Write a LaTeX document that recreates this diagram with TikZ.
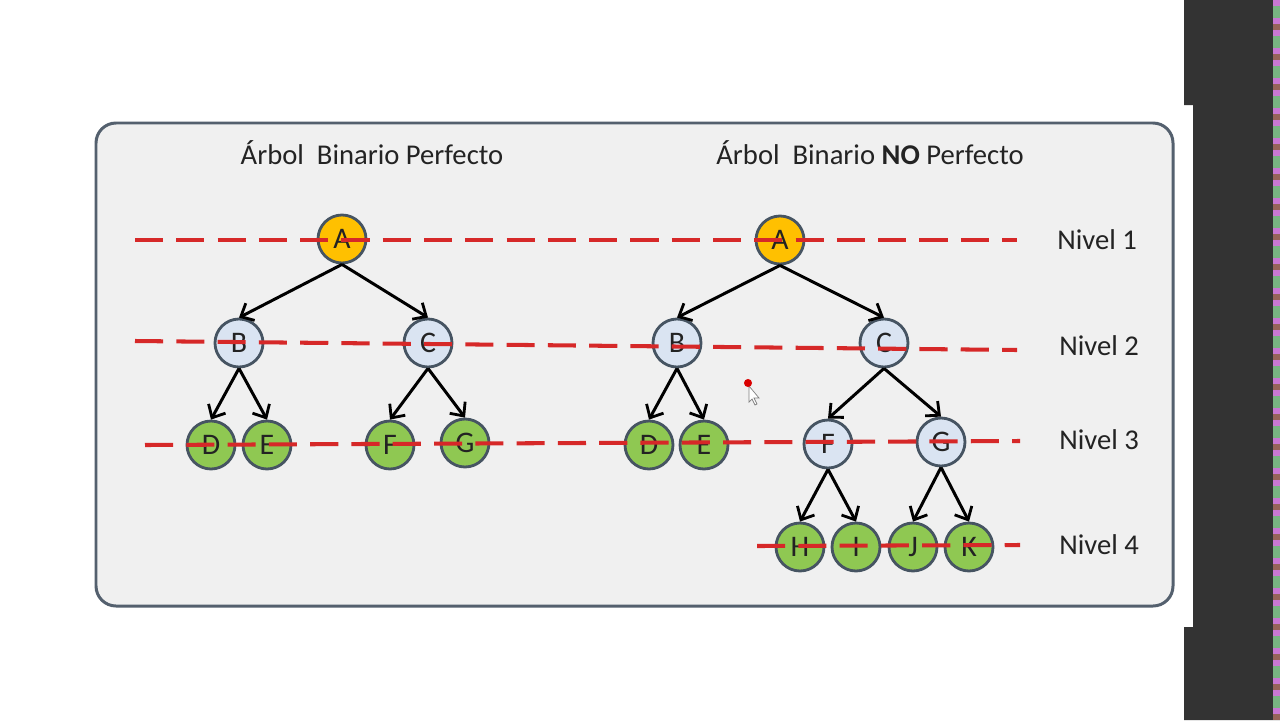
\documentclass[tikz,border=0pt]{standalone}
\usepackage{fontspec}
\setmainfont{Carlito}
\usetikzlibrary{arrows.meta}

\definecolor{boxfill}{RGB}{240,240,240}
\definecolor{boxline}{RGB}{84,96,110}
\definecolor{nodeline}{RGB}{70,84,98}
\definecolor{rootfill}{RGB}{255,192,0}
\definecolor{midfill}{RGB}{218,228,242}
\definecolor{leaffill}{RGB}{143,200,82}
\definecolor{levelred}{RGB}{214,40,40}
\definecolor{darkbar}{RGB}{51,51,51}
\definecolor{textgray}{RGB}{35,35,35}
\definecolor{noise0}{RGB}{200,120,210}
\definecolor{noise1}{RGB}{110,150,190}
\definecolor{noise2}{RGB}{230,230,120}
\definecolor{noise3}{RGB}{120,180,130}
\definecolor{noise4}{RGB}{150,100,90}

\begin{document}
\begin{tikzpicture}[
x=0.02cm, y=-0.02cm,
vertex/.style={circle, draw=nodeline, line width=1.6pt, minimum size=0.96cm, inner sep=0pt, text=textgray, font=\fontsize{17}{17}\selectfont},
rootnode/.style={vertex, fill=rootfill},
midnode/.style={vertex, fill=midfill},
leafnode/.style={vertex, fill=leaffill},
branch/.style={line width=1.7pt, -{Straight Barb[length=6pt,width=11pt,line width=1.6pt]}},
levelline/.style={draw=levelred, line width=2.3pt, dash pattern=on 16pt off 7.5pt},
heading/.style={text=textgray, font=\fontsize{16.3}{16.3}\selectfont},
levellabel/.style={text=textgray, font=\fontsize{16.3}{16.3}\selectfont}
]

% page and frame
\fill[white] (0,0) rectangle (1280,720);
\fill[darkbar] (1184,0) -- (1280,0) -- (1280,720) -- (1184,720) -- (1184,627)
  -- (1193,627) -- (1193,105) -- (1184,105) -- cycle;
\foreach \i in {0,...,119} {
  \pgfmathtruncatemacro\k{mod(\i*7+\i*\i,5)}
  \fill[noise\k] (1273,6*\i) rectangle (1280,6*\i+6);
}
\draw[boxline, line width=1.7pt, fill=boxfill, rounded corners=0.4cm] (96,123) rectangle (1173,606);

% headings
\node[heading] (hleft) at (372,153) {Árbol\ \ Binario Perfecto};
\node[heading] (hright) at (870,153) {Árbol\ \ Binario \textbf{NO} Perfecto};

% left tree
\node[rootnode] (lA) at (342,239) {A};
\node[midnode] (lB) at (239,343) {B};
\node[midnode] (lC) at (428,343) {C};
\node[leafnode] (lD) at (211,445) {D};
\node[leafnode] (lE) at (267,445) {E};
\node[leafnode] (lF) at (390,445) {F};
\node[leafnode] (lG) at (465,443) {G};

% right tree
\node[rootnode] (rA) at (780,240) {A};
\node[midnode] (rB) at (677,343) {B};
\node[midnode] (rC) at (884,343) {C};
\node[leafnode] (rD) at (649,445) {D};
\node[leafnode] (rE) at (704,445) {E};
\node[midnode] (rF) at (828,444) {F};
\node[midnode] (rG) at (941,442) {G};
\node[leafnode] (rH) at (800,547) {H};
\node[leafnode] (rI) at (856,547) {I};
\node[leafnode] (rJ) at (913,547) {J};
\node[leafnode] (rK) at (969,547) {K};

% edges
\draw[branch] (lA.south) -- (lB.north);
\draw[branch] (lA.south) -- (lC.north);
\draw[branch] (lB.south) -- (lD.north);
\draw[branch] (lB.south) -- (lE.north);
\draw[branch] (lC.south) -- (lF.north);
\draw[branch] (lC.south) -- (lG.north);
\draw[branch] (rA.south) -- (rB.north);
\draw[branch] (rA.south) -- (rC.north);
\draw[branch] (rB.south) -- (rD.north);
\draw[branch] (rB.south) -- (rE.north);
\draw[branch] (rC.south) -- (rF.north);
\draw[branch] (rC.south) -- (rG.north);
\draw[branch] (rF.south) -- (rH.north);
\draw[branch] (rF.south) -- (rI.north);
\draw[branch] (rG.south) -- (rJ.north);
\draw[branch] (rG.south) -- (rK.north);

% levels
\coordinate (n1a) at (135,240);  \coordinate (n1b) at (1017,240);
\coordinate (n2a) at (135,341);  \coordinate (n2b) at (1017,350);
\coordinate (n3a) at (145,445);  \coordinate (n3b) at (1020,441);
\coordinate (n4a) at (757,546);  \coordinate (n4b) at (1020,545);
\draw[levelline] (n1a) -- (n1b);
\draw[levelline] (n2a) -- (n2b);
\draw[levelline] (n3a) -- (n3b);
\draw[levelline] (n4a) -- (n4b);

\node[levellabel] (niv1) at (1097,240) {Nivel 1};
\node[levellabel] (niv2) at (1099,346) {Nivel 2};
\node[levellabel] (niv3) at (1099,440) {Nivel 3};
\node[levellabel] (niv4) at (1099,545) {Nivel 4};

% pointer
\draw[gray, fill=white, line width=0.4pt] (749,386) -- (749,402) -- (752,399) -- (755,405)
  -- (757,404) -- (754,398) -- (759,398) -- cycle;
\fill[red!85!black] (748,383) circle[radius=2.3pt];

\end{tikzpicture}
\end{document}
